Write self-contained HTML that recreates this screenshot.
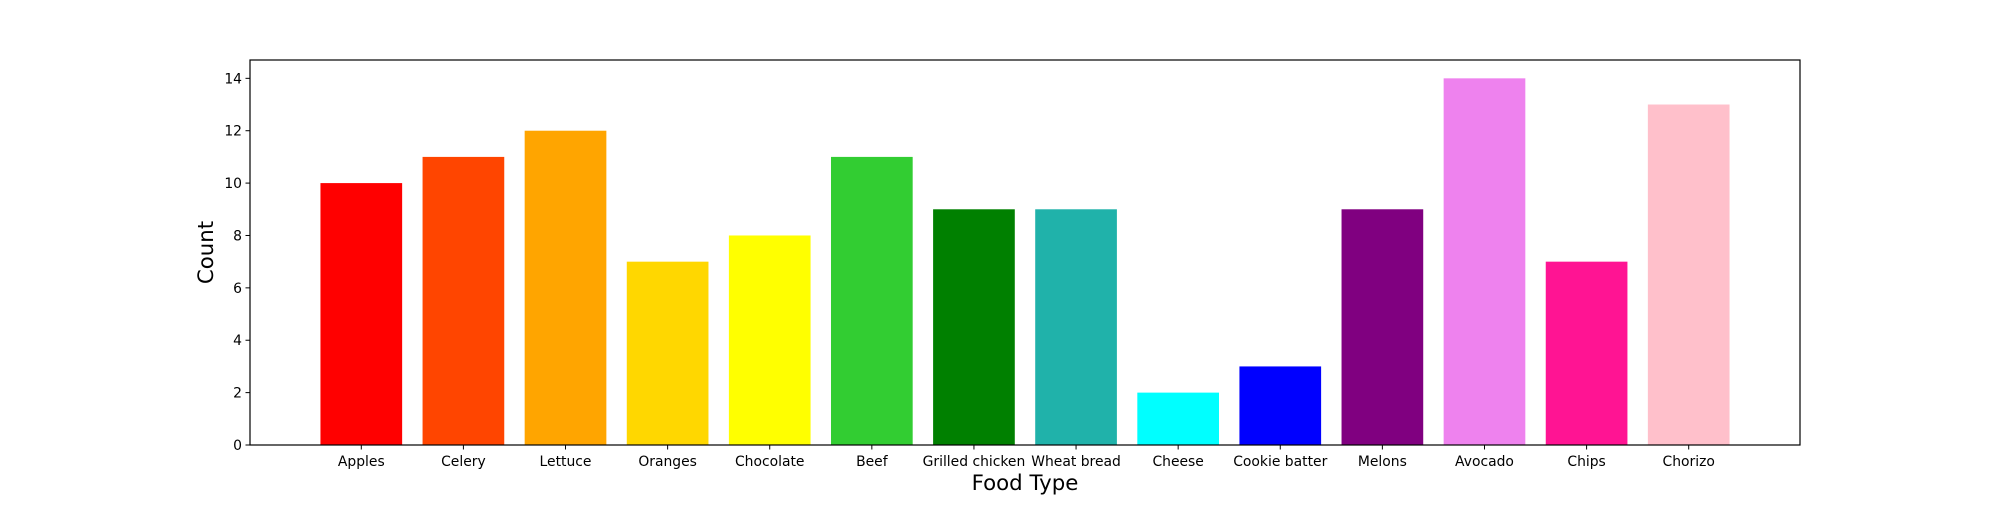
<!DOCTYPE html>
<html><head><meta charset="utf-8"><style>
html,body{margin:0;padding:0;background:#fff;}
svg text{font-family:"DejaVu Sans","Liberation Sans",sans-serif;fill:#000;}
</style></head><body>
<svg id="chart" width="2000" height="500" xmlns="http://www.w3.org/2000/svg"></svg>
<script>
const categories=["Apples","Celery","Lettuce","Oranges","Chocolate","Beef","Grilled chicken","Wheat bread","Cheese","Cookie batter","Melons","Avocado","Chips","Chorizo"];
const counts=[10,11,12,7,8,11,9,9,2,3,9,14,7,13];
const colors=["red","orangered","orange","gold","yellow","limegreen","green","lightseagreen","cyan","blue","purple","violet","deeppink","pink"];
const yTicks=[0,2,4,6,8,10,12,14];

const svg=document.getElementById('chart');
const NS="http://www.w3.org/2000/svg";
const L=250,R=1800,T=60,B=445;
const n=categories.length;
const xmin=-0.4-0.05*(n-1+0.8), xmax=(n-1)+0.4+0.05*(n-1+0.8);
const ymax=Math.max(...counts)*1.05;
const xs=v=>L+(v-xmin)/(xmax-xmin)*(R-L);
const ys=v=>B-v/ymax*(B-T);
function mk(tag,attrs,parent){const e=document.createElementNS(NS,tag);for(const k in attrs)e.setAttribute(k,attrs[k]);(parent||svg).appendChild(e);return e;}

counts.forEach((c,i)=>{
  const r=mk('rect',{x:xs(i-0.4),y:ys(c),width:xs(i+0.4)-xs(i-0.4),height:ys(0)-ys(c),fill:colors[i]});
  
  
  const t=mk('line',{x1:xs(i),x2:xs(i),y1:B,y2:B+4.5,stroke:'#000','stroke-width':1});
  
  
  const lb=mk('text',{x:xs(i),y:B+21,'text-anchor':'middle','font-size':13.9});
  lb.textContent=categories[i];
  
  
});
yTicks.forEach(v=>{
  const t=mk('line',{x1:L-4.5,x2:L,y1:ys(v),y2:ys(v),stroke:'#000','stroke-width':1});
  
  
  const lb=mk('text',{x:L-8,y:ys(v)+5,'text-anchor':'end','font-size':13.9});
  lb.textContent=v;
  
  
});
const frame=mk('rect',{x:L,y:T,width:R-L,height:B-T,fill:'none',stroke:'#000','stroke-width':1.2});


const xl=mk('text',{x:(L+R)/2,y:490,'text-anchor':'middle','font-size':21.3});
xl.textContent='Food Type';


const yl=mk('text',{x:213,y:(T+B)/2,'text-anchor':'middle','font-size':21.3,transform:'rotate(-90 213 '+((T+B)/2)+')'});
yl.textContent='Count';


</script>
</body></html>
